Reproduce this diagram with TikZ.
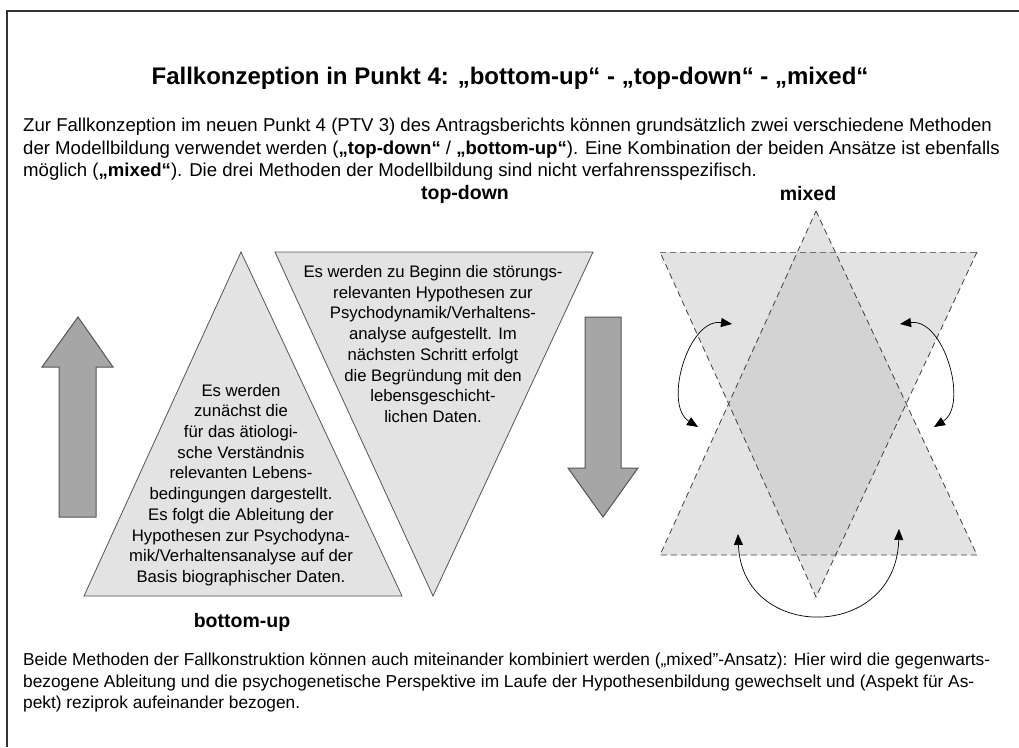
\documentclass[tikz,border=0pt]{standalone}
\usepackage{fontspec}
\setmainfont{Liberation Sans}
\usetikzlibrary{arrows.meta}
\definecolor{trifill}{HTML}{E3E3E3}
\definecolor{overfill}{HTML}{D3D3D3}
\definecolor{arrfill}{HTML}{A6A6A6}
\definecolor{edgegray}{HTML}{555555}
\tikzset{
  para/.style={anchor=north west, inner sep=0pt, align=left},
  heading/.style={inner sep=0pt, font=\bfseries\fontsize{19.5}{22}\selectfont},
  tritext/.style={inner sep=0pt, align=center, font=\fontsize{16.7}{20.7}\selectfont},
  solidtri/.style={fill=trifill, draw=edgegray, line width=0.8pt},
  bigarrow/.style={fill=arrfill, draw=edgegray, line width=1pt},
  dashtri/.style={draw=black!75, line width=0.8pt, dash pattern=on 6pt off 4pt},
  swap/.style={line width=0.7pt, {Triangle[length=11pt,width=9pt]}-{Triangle[length=11pt,width=9pt]}}
}
\begin{document}
\begin{tikzpicture}[x=1pt,y=-1pt]
\useasboundingbox (0,0) rectangle (1019,747);
% frame
\draw[line width=1.2pt, black!80] (7,747) -- (7,11) -- (1019,11);

% title
\node[inner sep=0pt, font=\bfseries\fontsize{24}{28}\selectfont] (title) at (510,78)
  {Fallkonzeption in Punkt 4: „bottom-up“ - „top-down“ - „mixed“};

% intro paragraph
\node[para, font=\fontsize{18.6}{22.5}\selectfont] (intro) at (23,118)
  {Zur Fallkonzeption im neuen Punkt 4 (PTV 3) des Antragsberichts können grundsätzlich zwei verschiedene Methoden\\
   der Modellbildung verwendet werden (\textbf{„top-down“} / \textbf{„bottom-up“}). Eine Kombination der beiden Ansätze ist ebenfalls\\
   möglich (\textbf{„mixed“}). Die drei Methoden der Modellbildung sind nicht verfahrensspezifisch.};

% labels
\node[heading] (lbltd) at (465,194) {top-down};
\node[heading] (lblmx) at (808,194) {mixed};
\node[heading] (lblbu) at (242,622) {bottom-up};

% up arrow (bottom-up)
\draw[bigarrow] (59,517) -- (59,367) -- (42,367) -- (78,317) -- (113,367) -- (96,367) -- (96,517) -- cycle;

% bottom-up triangle
\coordinate (bu1) at (241,252);
\coordinate (bu2) at (402,596);
\coordinate (bu3) at (84,596);
\draw[solidtri] (bu1) -- (bu2) -- (bu3) -- cycle;
\node[tritext] (butext) at (241,485)
  {Es werden\\zunächst die\\für das ätiologi-\\sche Verständnis\\relevanten Lebens-\\bedingungen dargestellt.\\Es folgt die Ableitung der\\Hypothesen zur Psychodyna-\\mik/Verhaltensanalyse auf der\\Basis biographischer Daten.};

% top-down triangle
\coordinate (td1) at (275,252);
\coordinate (td2) at (593,252);
\coordinate (td3) at (433,596);
\draw[solidtri] (td1) -- (td2) -- (td3) -- cycle;
\node[tritext] (tdtext) at (433,344)
  {Es werden zu Beginn die störungs-\\relevanten Hypothesen zur\\Psychodynamik/Verhaltens-\\analyse aufgestellt. Im\\nächsten Schritt erfolgt\\die Begründung mit den\\lebensgeschicht-\\lichen Daten.};

% down arrow (top-down)
\draw[bigarrow] (585,317) -- (621,317) -- (621,468) -- (638,468) -- (603,517) -- (568,468) -- (585,468) -- cycle;

% mixed
\coordinate (mu1) at (816,211);
\coordinate (mu2) at (977,555);
\coordinate (mu3) at (660,555);
\coordinate (md1) at (660,252);
\coordinate (md2) at (977,252);
\coordinate (md3) at (816,597);
\fill[trifill] (mu1) -- (mu2) -- (mu3) -- cycle;
\fill[trifill] (md1) -- (md2) -- (md3) -- cycle;
\begin{scope}
  \clip (mu1) -- (mu2) -- (mu3) -- cycle;
  \fill[overfill] (md1) -- (md2) -- (md3) -- cycle;
\end{scope}
\draw[dashtri] (mu1) -- (mu2) -- (mu3) -- cycle;
\draw[dashtri] (md2) -- (md3) -- (md1);
\draw[dashtri, draw=black!55] (md1) -- (md2);

% exchange arrows
\coordinate (la) at (732,324);
\coordinate (lb) at (698,427);
\coordinate (ra) at (900,324);
\coordinate (rb) at (934,427);
\coordinate (ba) at (738,534);
\coordinate (bb) at (899,529);
\draw[swap] (la) .. controls (688,318) and (663,405) .. (lb);
\draw[swap] (ra) .. controls (944,318) and (969,405) .. (rb);
\draw[swap] (ba) .. controls (742,642) and (896,642) .. (bb);

% closing paragraph
\node[para, font=\fontsize{17.3}{21.5}\selectfont] (outro) at (23,653)
  {Beide Methoden der Fallkonstruktion können auch miteinander kombiniert werden („mixed"-Ansatz): Hier wird die gegenwarts-\\
   bezogene Ableitung und die psychogenetische Perspektive im Laufe der Hypothesenbildung gewechselt und (Aspekt für As-\\
   pekt) reziprok aufeinander bezogen.};
\end{tikzpicture}
\end{document}
